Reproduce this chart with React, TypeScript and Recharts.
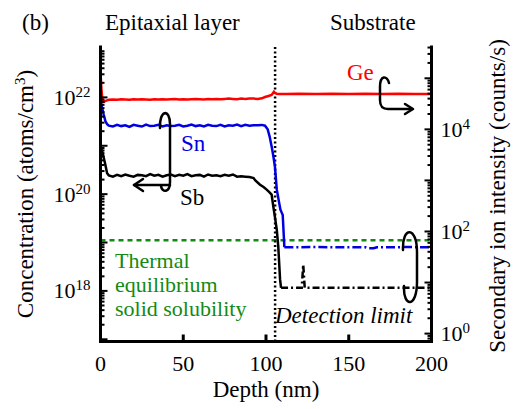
import React from "react";
import { LineChart, Line, XAxis, YAxis, ReferenceLine } from "recharts";

const FONT = "'Liberation Serif', 'DejaVu Serif', 'Liberation Sans', Arial, sans-serif";
const RED = "#ff0000";
const BLUE = "#0000e0";
const GREEN = "#138a13";

// flat part of the epitaxial layer, nm
const epiDepth = [
  5, 7.5, 10, 12.5, 15, 17.5, 20, 22.5, 25, 27.5, 30, 32.5, 35, 37.5, 40, 42.5, 45, 47.5,
  50, 52.5, 55, 57.5, 60, 62.5, 65, 67.5, 70, 72.5, 75, 77.5, 80, 82.5, 85, 87.5, 90, 92.5,
];

// Ge secondary ion intensity (counts/s) -> right axis
const geHeadDepth = [0, 0.6, 1.2, 2, 3, 4];
const geHead = [1.3e5, 6.0e4, 3.5e4, 3.45e4, 3.6e4, 3.7e4];
const geEpi = [
  3.8e4, 3.85e4, 3.8e4, 3.9e4, 3.85e4, 3.8e4, 3.9e4, 3.85e4, 3.9e4, 3.85e4, 3.8e4, 3.9e4,
  3.85e4, 3.9e4, 3.85e4, 3.9e4, 3.95e4, 3.85e4, 3.9e4, 3.85e4, 3.9e4, 3.95e4, 3.9e4, 3.85e4,
  3.95e4, 3.9e4, 3.95e4, 3.9e4, 3.95e4, 4.0e4, 3.95e4, 3.9e4, 4.0e4, 3.95e4, 4.0e4, 4.0e4,
];
const geTailDepth = [95, 97.5, 99.4, 101.5, 103.4, 104.8, 105.6, 106.5, 108, 112, 120, 130, 140, 150, 160, 170, 180, 190, 200];
const geTail = [
  3.95e4, 4.05e4, 4.3e4, 4.5e4, 4.7e4, 5.45e4, 5.1e4, 5.0e4, 4.95e4, 4.95e4, 5.0e4, 4.95e4,
  5.0e4, 4.95e4, 5.0e4, 4.95e4, 5.0e4, 4.95e4, 4.95e4,
];

// Sn concentration (atoms/cm3) -> left axis
const snHeadDepth = [0, 1, 2, 3, 4];
const snHead = [9e21, 6e21, 4.3e21, 3.2e21, 2.8e21];
const snEpi = [
  2.6e21, 2.5e21, 2.7e21, 2.55e21, 2.65e21, 2.45e21, 2.7e21, 2.6e21, 2.5e21, 2.75e21, 2.55e21, 2.6e21,
  2.7e21, 2.5e21, 2.65e21, 2.55e21, 2.6e21, 2.7e21, 2.5e21, 2.6e21, 2.75e21, 2.55e21, 2.65e21, 2.5e21,
  2.7e21, 2.6e21, 2.55e21, 2.7e21, 2.5e21, 2.65e21, 2.6e21, 2.75e21, 2.55e21, 2.7e21, 2.6e21, 2.65e21,
];
const snDropDepth = [95, 97.5, 99.4, 101, 102.2, 103.4, 104.4, 105.4, 106.5, 107.6, 108.7, 109.3, 110.1, 111.1];
const snDrop = [2.65e21, 2.7e21, 2.6e21, 2.2e21, 1.55e21, 9.7e20, 6.2e20, 3.7e20, 1.25e20, 7.7e19, 4.8e19, 4.3e19, 3.7e19, 8.0e18];
const snLimitDepth = [111.1, 120, 130, 140, 150, 160, 162, 165, 167, 175, 185, 200];
const snLimit = [8.0e18, 8.0e18, 8.05e18, 8.0e18, 8.0e18, 8.0e18, 7.6e18, 7.6e18, 8.0e18, 8.0e18, 8.05e18, 8.0e18];

// Sb concentration (atoms/cm3) -> left axis
const sbHeadDepth = [0, 1.3, 2.7, 4];
const sbHead = [1.0e21, 7e20, 4.4e20, 2.7e20];
const sbEpi = [
  2.45e20, 2.3e20, 2.5e20, 2.35e20, 2.55e20, 2.4e20, 2.3e20, 2.5e20, 2.45e20, 2.35e20, 2.6e20, 2.4e20,
  2.5e20, 2.3e20, 2.45e20, 2.55e20, 2.35e20, 2.5e20, 2.4e20, 2.6e20, 2.35e20, 2.45e20, 2.5e20, 2.3e20,
  2.55e20, 2.4e20, 2.45e20, 2.35e20, 2.5e20, 2.4e20, 2.55e20, 2.3e20, 2.35e20, 2.3e20, 2.25e20, 2.15e20,
];
const sbDropDepth = [93.4, 96.4, 98.5, 100.4, 102, 103.4, 104.4, 105.5, 106.5, 107.4, 108.5, 109.1];
const sbDrop = [1.95e20, 1.57e20, 1.4e20, 1.24e20, 1.1e20, 9.8e19, 5.6e19, 3.2e19, 1.85e19, 8.4e18, 1.73e18, 1.16e18];
const sbLimitDepth = [109.1, 115, 121.6, 122.5, 123.4, 130, 140, 150, 160, 170, 180, 190, 200];
const sbLimit = [1.16e18, 1.16e18, 1.16e18, 3.5e18, 1.16e18, 1.16e18, 1.16e18, 1.16e18, 1.16e18, 1.16e18, 1.16e18, 1.16e18, 1.16e18];

const solubilityLimit = 1.12e19;
const interfaceDepth = 105.5;

const depthTicks = [0, 50, 100, 150, 200];
const concDecades = [17, 18, 19, 20, 21, 22];
const concLabels = [18, 20, 22];
const countDecades = [-1, 0, 1, 2, 3, 4, 5];
const countLabels = [0, 2, 4];

const concDomain = [9e16, 1.1e23];
const countDomain = [0.7, 4.1e5];

const pts = (xs: number[], ys: number[]) => xs.map((x, i) => ({ x, v: ys[i] }));

const geData = pts([...geHeadDepth, ...epiDepth, ...geTailDepth], [...geHead, ...geEpi, ...geTail]);
const snData = pts([...snHeadDepth, ...epiDepth, ...snDropDepth], [...snHead, ...snEpi, ...snDrop]);
const snLimitData = pts(snLimitDepth, snLimit);
const sbData = pts([...sbHeadDepth, ...epiDepth, ...sbDropDepth], [...sbHead, ...sbEpi, ...sbDrop]);
const sbLimitData = pts(sbLimitDepth, sbLimit);

function logTicks(decades: number[], lo: number, hi: number) {
  const out: number[] = [];
  decades.forEach((d) => {
    for (let m = 1; m <= 9; m++) {
      const v = m * Math.pow(10, d);
      if (v >= lo && v <= hi) out.push(v);
    }
  });
  return out;
}

const concTicks = logTicks(concDecades, concDomain[0], concDomain[1]);
const countTicks = logTicks(countDecades, countDomain[0], countDomain[1]);

const serif = { fontFamily: FONT };

const Pow = ({ x, y, exp, anchor }: { x: number; y: number; exp: number; anchor: string }) => (
  <text x={x} y={y} textAnchor={anchor} style={serif} fontSize={22} fill="#000">
    <tspan>10</tspan>
    <tspan dy={-8} fontSize={15}>{exp}</tspan>
  </text>
);

const YTick = (props: any) => {
  const { x, y, payload, side, labels } = props;
  const v = payload.value;
  const exp = Math.round(Math.log10(v));
  const decade = Math.abs(v / Math.pow(10, exp) - 1) < 1e-6;
  const len = decade ? 7 : 4;
  const dir = side === "left" ? 1 : -1;
  return (
    <g>
      <line x1={x} y1={y} x2={x + dir * len} y2={y} stroke="#000" strokeWidth={2} />
      {decade && labels.includes(exp) && (
        <Pow x={side === "left" ? x - 10 : x + 9} y={y + 7.5} exp={exp} anchor={side === "left" ? "end" : "start"} />
      )}
    </g>
  );
};

const XTick = (props: any) => {
  const { x, y, payload, side } = props;
  if (side === "top") {
    return <line x1={x} y1={y} x2={x} y2={y + 6} stroke="#000" strokeWidth={3} />;
  }
  return (
    <g>
      <line x1={x} y1={y} x2={x} y2={y - 7} stroke="#000" strokeWidth={3} />
      <text x={x} y={y + 29.5} textAnchor="middle" style={serif} fontSize={22} fill="#000">
        {payload.value}
      </text>
    </g>
  );
};

const frame = { stroke: "#000", strokeWidth: 3, strokeLinecap: "square" as const };

export default function App() {
  const txt = { style: serif, fontSize: 23 };
  return (
    <div style={{ position: "absolute", left: 0, top: 0, width: 518, height: 409, background: "#fff", fontFamily: FONT }}>
      <LineChart width={518} height={409} margin={{ top: 47, right: 26.5, bottom: 37.5, left: 40.5 }}>
        <XAxis
          xAxisId="b"
          dataKey="x"
          type="number"
          domain={[0, 200]}
          ticks={depthTicks}
          interval={0}
          height={30}
          tickSize={0}
          tickMargin={0}
          tickLine={false}
          axisLine={frame}
          tick={(p: any) => <XTick {...p} side="bottom" />}
          allowDataOverflow
        />
        <XAxis
          xAxisId="t"
          orientation="top"
          dataKey="x"
          type="number"
          domain={[0, 200]}
          ticks={depthTicks}
          interval={0}
          height={0}
          tickSize={0}
          tickMargin={0}
          tickLine={false}
          axisLine={frame}
          tick={(p: any) => <XTick {...p} side="top" />}
          allowDataOverflow
        />
        <YAxis
          yAxisId="conc"
          scale="log"
          type="number"
          domain={concDomain}
          allowDataOverflow
          ticks={concTicks}
          interval={0}
          width={60}
          tickSize={0}
          tickMargin={0}
          tickLine={false}
          axisLine={frame}
          tick={(p: any) => <YTick {...p} side="left" labels={concLabels} />}
        />
        <YAxis
          yAxisId="cnt"
          orientation="right"
          scale="log"
          type="number"
          domain={countDomain}
          allowDataOverflow
          ticks={countTicks}
          interval={0}
          width={60}
          tickSize={0}
          tickMargin={0}
          tickLine={false}
          axisLine={frame}
          tick={(p: any) => <YTick {...p} side="right" labels={countLabels} />}
        />
        <ReferenceLine xAxisId="b" yAxisId="conc" y={solubilityLimit} stroke={GREEN} strokeWidth={2.5} strokeDasharray="5 4" />
        <ReferenceLine xAxisId="b" yAxisId="conc" x={interfaceDepth} stroke="#000" strokeWidth={2.5} strokeDasharray="2 2.5" />
        <Line xAxisId="b" yAxisId="conc" data={sbLimitData} dataKey="v" stroke="#000" strokeWidth={2.5} strokeDasharray="7 3 2 3" dot={false} activeDot={false} isAnimationActive={false} />
        <Line xAxisId="b" yAxisId="conc" data={sbData} dataKey="v" stroke="#000" strokeWidth={2.5} dot={false} activeDot={false} isAnimationActive={false} />
        <Line xAxisId="b" yAxisId="conc" data={snLimitData} dataKey="v" stroke={BLUE} strokeWidth={2.5} strokeDasharray="9 3 2 3" dot={false} activeDot={false} isAnimationActive={false} />
        <Line xAxisId="b" yAxisId="conc" data={snData} dataKey="v" stroke={BLUE} strokeWidth={2.5} dot={false} activeDot={false} isAnimationActive={false} />
        <Line xAxisId="b" yAxisId="cnt" data={geData} dataKey="v" stroke={RED} strokeWidth={2.5} dot={false} activeDot={false} isAnimationActive={false} />
      </LineChart>

      <svg width={518} height={409} style={{ position: "absolute", left: 0, top: 0, pointerEvents: "none", fontFamily: FONT }}>
        <g {...txt} fill="#000">
          <text x={22} y={30}>(b)</text>
          <text x={105} y={30}>Epitaxial layer</text>
          <text x={330} y={30}>Substrate</text>
          <text x={180} y={205}>Sb</text>
          <text x={266} y={397} textAnchor="middle">Depth (nm)</text>
          <text transform="translate(33,194) rotate(-90)" textAnchor="middle">
            Concentration (atoms/cm<tspan dy={-8} fontSize={15}>3</tspan><tspan dy={8}>)</tspan>
          </text>
          <text transform="translate(505,196) rotate(-90)" textAnchor="middle">
            Secondary ion intensity (counts/s)
          </text>
          <text x={275} y={323} fontStyle="italic">Detection limit</text>
        </g>
        <text x={347} y={80} {...txt} fill={RED}>Ge</text>
        <text x={181} y={151} {...txt} fill={BLUE}>Sn</text>
        <g style={serif} fontSize={22} fill={GREEN}>
          <text x={115} y={268}>Thermal</text>
          <text x={115} y={292}>equilibrium</text>
          <text x={115} y={316}>solid solubility</text>
        </g>
        <g fill="none" stroke="#000" strokeWidth={2.5} strokeLinecap="round" strokeLinejoin="round">
          <path d="M 389 83 C 387 75, 380 75, 380 87 L 380 100 C 380 108, 384 109, 388 109 L 412 109" />
          <path d="M 405 104 L 413 109 L 405 114" />
          <path d="M 160 128 C 159 110, 170 108, 170 124 L 170 182 C 170 193, 162 193, 161 186" />
          <path d="M 170 185 L 134 185" />
          <path d="M 143 179 L 134 185 L 143 191" />
          <path d="M 403 250 C 402 226, 417 226, 417 252 L 417 282 C 417 308, 403 308, 404 286" />
        </g>
      </svg>
    </div>
  );
}
